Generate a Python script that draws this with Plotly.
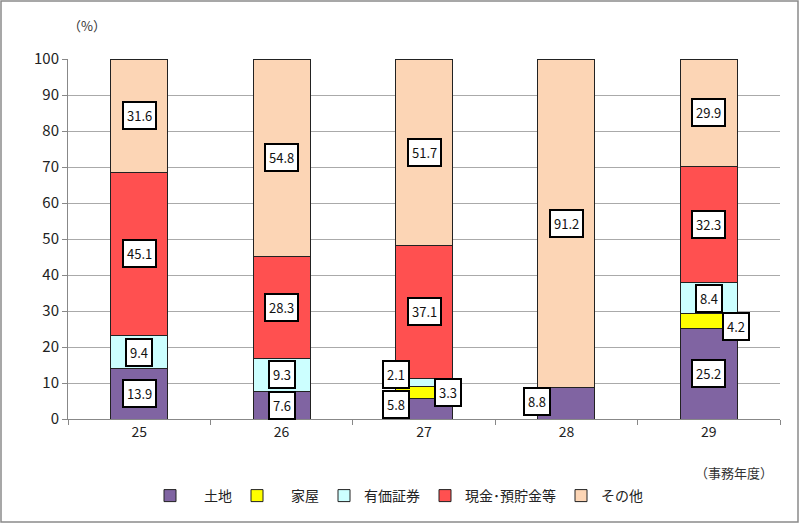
import plotly.graph_objects as go

years = ["25", "26", "27", "28", "29"]
series_names = ["\u3000土地", "\u3000家屋", "有価証券", "現金･預貯金等", "その他"]
land = [13.9, 7.6, 5.8, 8.8, 25.2]
house = [0, 0, 3.3, 0, 4.2]
securities = [9.4, 9.3, 2.1, 0, 8.4]
cash = [45.1, 28.3, 37.1, 0, 32.3]
other = [31.6, 54.8, 51.7, 91.2, 29.9]
colors = ["#8064A2", "#FFFF00", "#CCFFFF", "#FF5050", "#FCD5B5"]
# label placement per series/year: 0 = centered, -1 = on left edge, +1 = on right edge, None = no label
placement = [
    [0, 0, -1, -1, 0],
    [None, None, 1, None, 1],
    [0, 0, -1, None, 0],
    [0, 0, 0, None, 0],
    [0, 0, 0, 0, 0],
]

all_series = [land, house, securities, cash, other]
FONT = "Noto Sans CJK JP, Meiryo, sans-serif"

fig = go.Figure()
for name, vals, col in zip(series_names, all_series, colors):
    fig.add_trace(go.Bar(
        x=years, y=vals, name=name,
        marker=dict(color=col, line=dict(color="#222222", width=1)),
        width=0.4,
    ))

# small pixel nudges for crowded labels (year, series) -> (xshift, yshift)
nudges = {
    ("27", 0): (0, 4),
    ("27", 1): (-5, 0),
    ("27", 2): (0, 8),
    ("28", 0): (-1, 2),
    ("29", 1): (-1, -6),
}

annotations = []
bottoms = [0.0] * len(years)
for si, vals in enumerate(all_series):
    for yi, v in enumerate(vals):
        p = placement[si][yi]
        if p is not None and v > 0:
            ymid = bottoms[yi] + v / 2
            xshift = 28.5 * p
            dx, dy = nudges.get((years[yi], si), (0, 0))
            annotations.append(dict(
                x=yi, y=ymid, xref="x", yref="y", text=f"{v:.1f}",
                showarrow=False, xshift=xshift + dx, yshift=dy,
                bgcolor="white", bordercolor="black", borderwidth=2, borderpad=3,
                font=dict(size=13, color="#111111", family=FONT),
            ))
        bottoms[yi] += v

annotations.append(dict(text="（%）", x=0.0, y=1.0, xref="paper", yref="paper",
                        xanchor="left", yanchor="bottom", xshift=-2, yshift=22, showarrow=False,
                        font=dict(size=13, color="#333333", family=FONT)))
annotations.append(dict(text="（事務年度）", x=(768 - 68) / 712, y=0, xref="paper", yref="paper",
                        xanchor="right", yanchor="middle", xshift=7, yshift=-53, showarrow=False,
                        font=dict(size=13, color="#333333", family=FONT)))

fig.update_layout(
    barmode="stack",
    width=800, height=525,
    margin=dict(l=68, r=20, t=59, b=106, autoexpand=False),
    paper_bgcolor="white", plot_bgcolor="white",
    font=dict(family=FONT, size=14, color="#222222"),
    annotations=annotations,
    legend=dict(orientation="h", x=(399 - 68) / 712, xanchor="center", y=-(496 - 419) / 360,
                yanchor="middle",
                font=dict(size=14, family=FONT, color="#222222"), traceorder="normal",
                itemwidth=30),
    shapes=[dict(type="rect", xref="paper", yref="paper", x0=(1 - 68) / 712, x1=(798 - 68) / 712,
                 y0=(419 - 522) / 360, y1=(419 - 1) / 360, line=dict(color="#8A8A8A", width=1.5))],
    bargap=0.6,
)
fig.update_xaxes(type="category", range=[-0.5, 4.5], showline=True, linecolor="#888888",
                 ticks="outside", tickson="boundaries", ticklen=5, tickcolor="#888888",
                 tickangle=0, tickfont=dict(size=14, color="#222222"), showgrid=False)
fig.update_yaxes(range=[0, 100], dtick=10, showgrid=True, gridcolor="#AAAAAA", gridwidth=1,
                 showline=True, linecolor="#888888", ticks="outside", ticklen=5,
                 tickcolor="#888888", tickfont=dict(size=15, color="#222222"), zeroline=False)

fig.write_html("out.html", config={"displayModeBar": False},
               post_script="document.body.style.margin='0';")
